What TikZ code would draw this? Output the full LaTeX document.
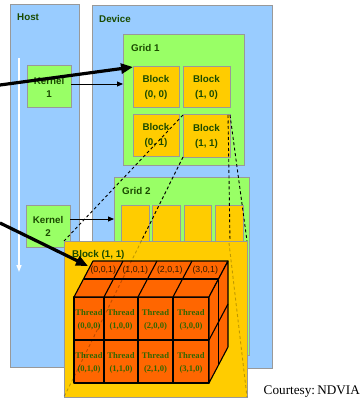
\documentclass[tikz,border=0pt]{standalone}
\usepackage{fontspec}
\setmainfont{Liberation Serif}
\setsansfont{Liberation Sans}
\usetikzlibrary{arrows.meta,calc}

\definecolor{panelblue}{HTML}{99CCFF}
\definecolor{boxgreen}{HTML}{99FF66}
\definecolor{blockyellow}{HTML}{FFCC00}
\definecolor{threadorange}{HTML}{FF6600}
\definecolor{edgegray}{HTML}{999999}
\definecolor{labelgreen}{HTML}{1A4A00}
\definecolor{threadgreen}{HTML}{336600}
\definecolor{idtext}{HTML}{2B1A00}

\begin{document}
\begin{tikzpicture}[x=1pt,y=-1pt,
  box/.style={draw=edgegray, line width=1pt, anchor=north west, inner sep=0pt, outer sep=0pt},
  panel/.style={box, fill=panelblue},
  greenbox/.style={box, fill=boxgreen, font=\sffamily\bfseries\fontsize{9.8}{13}\selectfont, text=labelgreen, align=center},
  yellowbox/.style={box, fill=blockyellow, font=\sffamily\bfseries\fontsize{9.8}{15}\selectfont, text=labelgreen, align=center},
  lbl/.style={font=\sffamily\bfseries\fontsize{9.8}{12}\selectfont, text=labelgreen, inner sep=0pt, anchor=base west},
  cubeline/.style={draw=black, line width=1.1pt, line join=round},
  threadlbl/.style={font=\bfseries\fontsize{8.6}{13}\selectfont, text=threadgreen, align=center, inner sep=0pt},
  idlbl/.style={font=\sffamily\fontsize{8.8}{10}\selectfont, text=idtext, inner sep=0pt},
  dashline/.style={draw=black, line width=0.9pt, dash pattern=on 3pt off 2.5pt},
  faintline/.style={dashline, draw opacity=0.25},
  callarrow/.style={draw=black, line width=0.9pt, -{Triangle[length=6pt,width=5pt]}},
  launcharrow/.style={draw=black, line width=3.2pt, -{Triangle[length=12pt,width=10pt]}},
]
\useasboundingbox (0,0) rectangle (361,398);
\fill[white] (0,0) rectangle (361,398);

% host and device panels
\node[panel, minimum width=69pt, minimum height=362pt] (host) at (10,5) {};
\node[panel, minimum width=180pt, minimum height=362pt] (device) at (92,6) {};
\node[lbl] (hostlbl) at (17,21) {Host};
\node[lbl] (devicelbl) at (99,22.5) {Device};

% time line of the host
\coordinate (tstart) at (19,58);
\coordinate (tend) at (19,272);
\draw[white, line width=1.4pt, -{Triangle[length=7pt,width=5pt]}] (tstart) -- (tend);

% kernels
\node[greenbox, minimum width=44pt, minimum height=42pt] (kernel1) at (27,66) {Kernel\\1};
\node[greenbox, minimum width=44pt, minimum height=42pt] (kernel2) at (26,205) {Kernel\\2};

% grid 1
\node[greenbox, minimum width=121pt, minimum height=130pt] (grid1) at (123,35) {};
\node[lbl] (grid1lbl) at (131,52) {Grid 1};
\node[yellowbox, minimum width=46pt, minimum height=41pt] (b00) at (133,67) {Block\\(0, 0)};
\node[yellowbox, minimum width=47pt, minimum height=41pt] (b10) at (183,67) {Block\\(1, 0)};
\node[yellowbox, minimum width=46pt, minimum height=41pt] (b01) at (133,115) {Block\\(0, 1)};
\node[yellowbox, minimum width=47pt, minimum height=42pt] (b11) at (183,115) {Block\\(1, 1)};

% grid 2
\node[greenbox, minimum width=135pt, minimum height=178pt] (grid2) at (114,177) {};
\node[lbl] (grid2lbl) at (122,194) {Grid 2};
\node[yellowbox, minimum width=28pt, minimum height=50pt] (g2a) at (121,205) {};
\node[yellowbox, minimum width=28pt, minimum height=50pt] (g2b) at (152,205) {};
\node[yellowbox, minimum width=27pt, minimum height=50pt] (g2c) at (184,205) {};
\node[yellowbox, minimum width=28pt, minimum height=50pt] (g2d) at (215,205) {};

% kernel launches
\draw[callarrow] ([yshift=3pt]kernel1.east) -- ([yshift=3pt]kernel1.east -| grid1.west);
\draw[callarrow] ([yshift=7pt]kernel2.east) -- ([yshift=7pt]kernel2.east -| grid2.west);

% expanded block (1, 1)
\coordinate (bigtop) at (230,241);
\coordinate (bigbottom) at (64,397);
\draw[dashline] (b11.north west) -- (64,241);
\draw[dashline] (b11.south west) -- (bigbottom);
\draw[dashline] (b11.north east) -- (247,241);
\draw[dashline] ([xshift=-2pt]b11.north east) -- (bigtop);

\node[box, fill=blockyellow, minimum width=183pt, minimum height=156pt] (big) at (64,241) {};
\node[lbl] (biglbl) at (72,257) {Block (1, 1)};

% thread cube: front face, top face, right face
\coordinate (d) at (19,-36);
\filldraw[cubeline, fill=threadorange] (74,297) rectangle (209,383);
\filldraw[cubeline, fill=threadorange] (74,297) -- (209,297) -- ($(209,297)+(d)$) -- ($(74,297)+(d)$) -- cycle;
\filldraw[cubeline, fill=threadorange] (209,297) -- ($(209,297)+(d)$) -- ($(209,383)+(d)$) -- (209,383) -- cycle;
\foreach \x in {104,138,173} {
  \draw[cubeline] (\x,297) -- (\x,383);
  \draw[cubeline] (\x,297) -- ($(\x,297)+(d)$);
}
\draw[cubeline] (74,340) -- (209,340);
\draw[cubeline] ($(74,297)+0.5*(d)$) -- ($(209,297)+0.5*(d)$) -- ($(209,383)+0.5*(d)$);
\draw[cubeline] (209,340) -- ($(209,340)+(d)$);

\foreach \i/\xa/\xb in {0/74/104,1/104/138,2/138/173,3/173/209} {
  \node[idlbl] (id-\i) at ({(\xa+\xb)/2+14.25},270) {(\i,0,1)};
  \node[threadlbl] (t-\i-0) at ({(\xa+\xb)/2},319.5) {Thread\\(\i,0,0)};
  \node[threadlbl] (t-\i-1) at ({(\xa+\xb)/2},362.5) {Thread\\(\i,1,0)};
}

% hidden edges seen through the block
\draw[faintline] (b11.south west) -- (bigbottom);
\draw[faintline] (229,243) -- (big.south east);

% launches from the host
\coordinate (launch1) at (0,85);
\coordinate (launch2) at (0,223);
\coordinate (cubecorner) at (88,266);
\draw[launcharrow] (launch1) -- (b00.north west);
\draw[launcharrow] (launch2) -- (cubecorner);

\node[font=\fontsize{13.2}{15}\selectfont, anchor=base east, inner sep=0pt] (credit) at (360,394) {Courtesy:\,NDVIA};
\end{tikzpicture}
\end{document}
